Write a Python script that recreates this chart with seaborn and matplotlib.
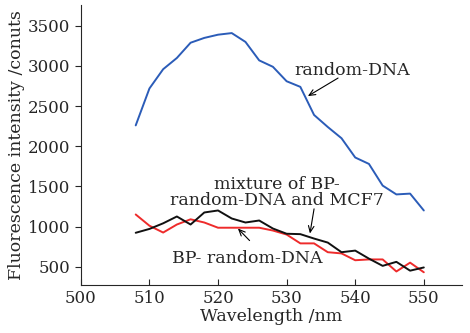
import pandas as pd
import seaborn as sns
import matplotlib.pyplot as plt

wavelength = [508, 510, 512, 514, 516, 518, 520, 522, 524, 526, 528,
              530, 532, 534, 536, 538, 540, 542, 544, 546, 548, 550]
random_dna = [2260, 2720, 2960, 3100, 3290, 3350, 3390, 3410, 3300, 3070, 2990,
              2810, 2740, 2390, 2240, 2100, 1860, 1780, 1510, 1400, 1410, 1200]
bp_random_dna = [1150, 1010, 925, 1025, 1090, 1050, 985, 985, 985, 985, 950,
                 900, 790, 790, 680, 665, 580, 590, 590, 440, 550, 430]
mixture = [922, 970, 1040, 1125, 1025, 1175, 1200, 1100, 1050, 1075, 975,
           910, 905, 850, 800, 680, 700, 600, 510, 560, 450, 490]

series = ["random-DNA", "BP- random-DNA", "mixture"]
colors = ["#2b5cb8", "#ee2b2b", "#111111"]

df = pd.DataFrame({
    "Wavelength": wavelength * 3,
    "Intensity": random_dna + bp_random_dna + mixture,
    "Sample": [s for s in series for _ in wavelength],
})

sns.set_style("ticks")
plt.rcParams["font.family"] = ["DejaVu Serif"]

fig = plt.figure(figsize=(4.7, 3.33), dpi=100)
ax = fig.add_axes([0.172, 0.145, 0.81, 0.84])
sns.lineplot(data=df, x="Wavelength", y="Intensity", hue="Sample",
             palette=dict(zip(series, colors)), linewidth=1.4, legend=False, ax=ax)

ax.set_xlim(500, 555.5)
ax.set_ylim(275, 3760)
ax.set_xticks([500, 510, 520, 530, 540, 550])
ax.set_yticks([500, 1000, 1500, 2000, 2500, 3000, 3500])
ax.tick_params(axis="x", direction="in", length=4, labelsize=12)
ax.tick_params(axis="y", direction="out", length=4, labelsize=12)
ax.set_xlabel("Wavelength /nm", fontsize=12.5, labelpad=1)
ax.set_ylabel("Fluorescence intensity /conuts", fontsize=12.5, labelpad=2)
sns.despine(ax=ax)

# labels and their arrows (arrows drawn separately so they start where the original does)
arrow = dict(arrowstyle="->,head_length=0.45,head_width=0.2", color="black",
             lw=0.8, shrinkA=0, shrinkB=0)
ax.text(539.5, 2950, "random-DNA", fontsize=12.5, ha="center", va="center")
ax.annotate("", xy=(533.1, 2625), xytext=(537.5, 2850), arrowprops=arrow)

ax.text(528.6, 1425, "mixture of BP-\nrandom-DNA and MCF7", fontsize=12.5,
        ha="center", va="center", linespacing=0.95)
ax.annotate("", xy=(533.4, 913), xytext=(534.0, 1220), arrowprops=arrow)

ax.text(524.2, 600, "BP- random-DNA", fontsize=12.5, ha="center", va="center")
ax.annotate("", xy=(522.9, 975), xytext=(524.6, 825), arrowprops=arrow)

fig.savefig("out.png", dpi=100)
